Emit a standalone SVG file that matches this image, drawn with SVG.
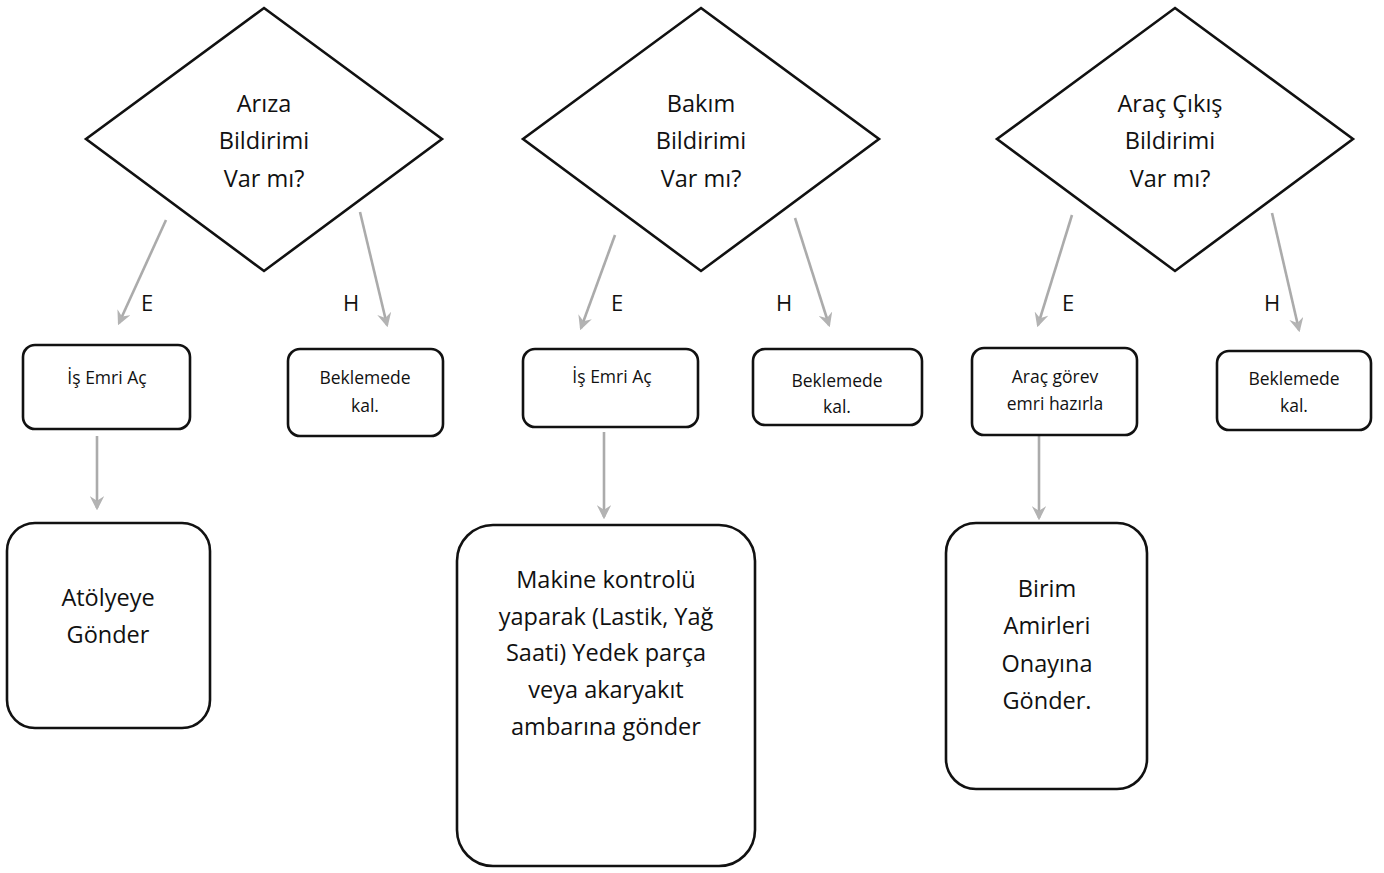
<svg xmlns="http://www.w3.org/2000/svg" width="1384" height="873" viewBox="0 0 1384 873">
<style>
.shape{fill:#fff;stroke:#111;stroke-width:2.6}
.t{font-family:"Open Sans","Noto Sans","Liberation Sans",sans-serif;fill:#111;text-anchor:middle}
.big{font-size:23.5px}
.sm{font-size:17.5px}
.lbl{font-size:22px}
.con{stroke:#ababab;stroke-width:2.6;fill:none;marker-end:url(#ah)}
</style>
<defs>
<marker id="ah" viewBox="0 0 12 12" refX="10" refY="6" markerWidth="5.5" markerHeight="5.5" orient="auto" markerUnits="strokeWidth">
<path d="M0,0 L12,6 L0,12 L4,6 Z" fill="#b3b3b3"/>
</marker>
</defs>
<rect width="1384" height="873" fill="#fff"/>
<g id="connectors">
<line class="con" x1="166" y1="220" x2="119" y2="323"/>
<line class="con" x1="360" y1="212" x2="387" y2="325"/>
<line class="con" x1="97" y1="436" x2="97" y2="508"/>
<line class="con" x1="615" y1="235" x2="581" y2="328"/>
<line class="con" x1="795" y1="218" x2="829" y2="325"/>
<line class="con" x1="604" y1="432" x2="604" y2="517"/>
<line class="con" x1="1072" y1="215" x2="1038" y2="325"/>
<line class="con" x1="1272" y1="213" x2="1299" y2="330"/>
<line class="con" x1="1039" y1="436" x2="1039" y2="518"/>
</g>
<g id="labels">
<text class="t lbl" x="147" y="311">E</text>
<text class="t lbl" x="351" y="311">H</text>
<text class="t lbl" x="617" y="311">E</text>
<text class="t lbl" x="784" y="311">H</text>
<text class="t lbl" x="1068" y="311">E</text>
<text class="t lbl" x="1272" y="311">H</text>
</g>
<g id="d1">
<polygon class="shape" points="264,8 442,139 264,271 86,139"/>
<text class="t big" x="264" y="112">Arıza</text>
<text class="t big" x="264" y="149">Bildirimi</text>
<text class="t big" x="264" y="187">Var mı?</text>
</g>
<g id="d2">
<polygon class="shape" points="701,8 879,139 701,271 523,139"/>
<text class="t big" x="701" y="112">Bakım</text>
<text class="t big" x="701" y="149">Bildirimi</text>
<text class="t big" x="701" y="187">Var mı?</text>
</g>
<g id="d3">
<polygon class="shape" points="1175,8 1353,139 1175,271 997,139"/>
<text class="t big" x="1170" y="112">Araç Çıkış</text>
<text class="t big" x="1170" y="149">Bildirimi</text>
<text class="t big" x="1170" y="187">Var mı?</text>
</g>
<g id="b1">
<rect class="shape" x="23" y="345" width="167" height="84" rx="12"/>
<text class="t sm" x="107" y="384">İş Emri Aç</text>
</g>
<g id="w1">
<rect class="shape" x="288" y="349" width="155" height="87" rx="12"/>
<text class="t sm" x="365" y="384">Beklemede</text>
<text class="t sm" x="365" y="412">kal.</text>
</g>
<g id="f1">
<rect class="shape" x="7" y="523" width="203" height="205" rx="28"/>
<text class="t big" x="108" y="606">Atölyeye</text>
<text class="t big" x="108" y="643">Gönder</text>
</g>
<g id="b2">
<rect class="shape" x="523" y="349" width="175" height="78" rx="12"/>
<text class="t sm" x="612" y="383">İş Emri Aç</text>
</g>
<g id="w2">
<rect class="shape" x="753" y="349" width="169" height="76" rx="12"/>
<text class="t sm" x="837" y="387">Beklemede</text>
<text class="t sm" x="837" y="413">kal.</text>
</g>
<g id="f2">
<rect class="shape" x="457" y="525" width="298" height="341" rx="36"/>
<text class="t big" x="606" y="588">Makine kontrolü</text>
<text class="t big" x="606" y="625">yaparak (Lastik, Yağ</text>
<text class="t big" x="606" y="661">Saati) Yedek parça</text>
<text class="t big" x="606" y="698">veya akaryakıt</text>
<text class="t big" x="606" y="735">ambarına gönder</text>
</g>
<g id="b3">
<rect class="shape" x="972" y="348" width="165" height="87" rx="12"/>
<text class="t sm" x="1055" y="383">Araç görev</text>
<text class="t sm" x="1055" y="410">emri hazırla</text>
</g>
<g id="w3">
<rect class="shape" x="1217" y="351" width="154" height="79" rx="12"/>
<text class="t sm" x="1294" y="385">Beklemede</text>
<text class="t sm" x="1294" y="412">kal.</text>
</g>
<g id="f3">
<rect class="shape" x="946" y="523" width="201" height="266" rx="30"/>
<text class="t big" x="1047" y="597">Birim</text>
<text class="t big" x="1047" y="634">Amirleri</text>
<text class="t big" x="1047" y="672">Onayına</text>
<text class="t big" x="1047" y="709">Gönder.</text>
</g>
</svg>
